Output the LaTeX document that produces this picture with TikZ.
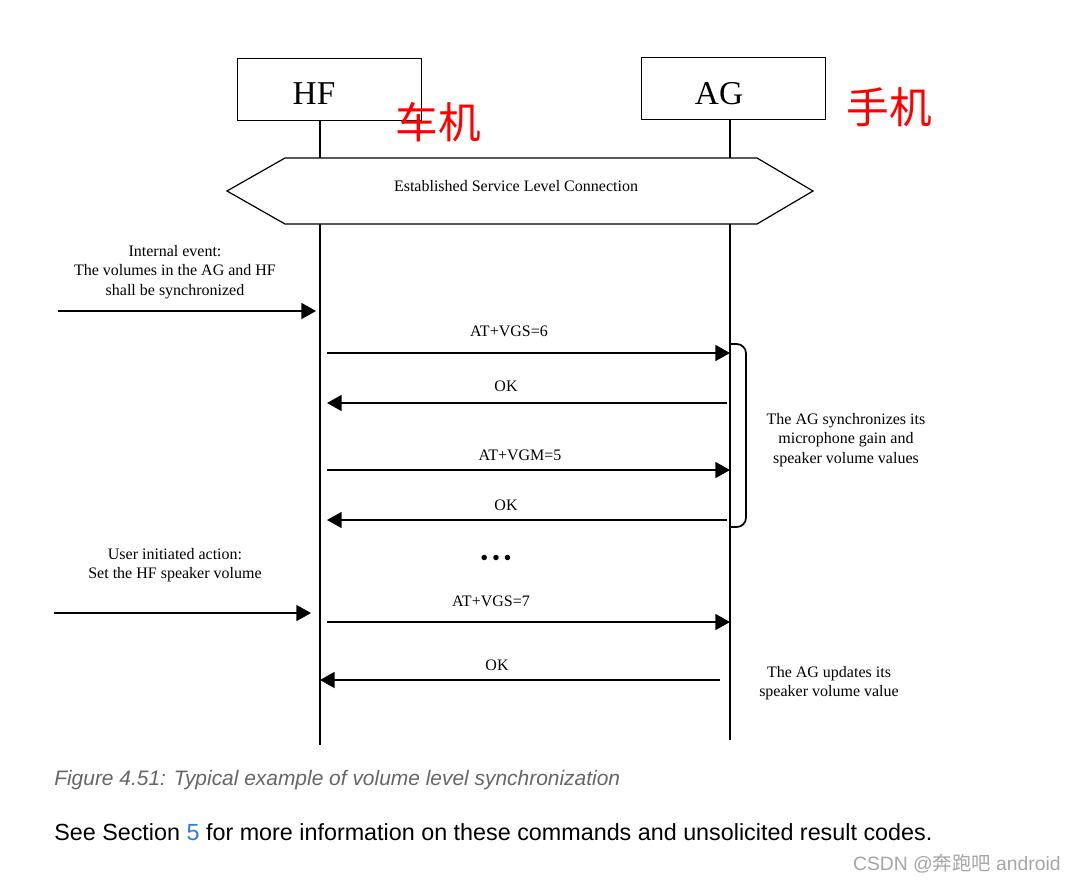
\documentclass[tikz,border=0pt]{standalone}
\usepackage{fontspec}
\setmainfont{Liberation Serif}
\newfontfamily\sansfont{Liberation Sans}
\newfontfamily\cjk{Noto Sans CJK SC}
\usetikzlibrary{positioning,arrows.meta}
\definecolor{linkblue}{HTML}{2A7DE1}

\begin{document}
\begin{tikzpicture}[
  x=.75pt, y=-.75pt, line width=1.3pt,
  >={Triangle[length=11pt,width=12pt]},
  ent/.style={draw,line width=.6pt,minimum width=138pt,minimum height=46pt,inner sep=0pt},
  msg/.style={font=\fontsize{12}{14}\selectfont},
  note/.style={align=center,font=\fontsize{12}{14.6}\selectfont},
  zh/.style={text=red,font=\cjk\fontsize{32}{36}\selectfont}
]
  \useasboundingbox[fill=white] (0,0) rectangle (1066,882);
  \node[ent] (hf) at (329.5,89.5) {};
  \node[ent] (ag) at (733,88.5) {};
  \node[font=\fontsize{25}{28}\selectfont] (hft) at (314,94) {HF};
  \node[font=\fontsize{25}{28}\selectfont] (agt) at (719,94) {AG};
  \node[zh] (car) at (438,122) {车机};
  \node[zh] (phone) at (889,107) {手机};
  \coordinate (hfend) at (320,745);
  \coordinate (agend) at (730,740);
  \draw (hfend |- hf.south) -- (hfend);
  \draw (agend |- ag.south) -- (agend);
  \draw[fill=white,line width=.9pt] (227,191) -- (285,158) -- (757,158) -- (813,191) -- (757,224) -- (285,224) -- cycle;
  \node[msg] (slc) at (516,186) {Established Service Level Connection};
  \node[note] (ev) at (175,272) {Internal event:\\The volumes in the AG and HF\\shall be synchronized};
  \coordinate (ev0) at (58,311);
  \coordinate (ev1) at (316,311);
  \draw[->] (ev0) -- (ev1);
  \coordinate (h1) at (327,353);
  \coordinate (a1) at (730,353);
  \coordinate (a2) at (727,403);
  \coordinate (h2) at (327,403);
  \coordinate (h3) at (327,470);
  \coordinate (a3) at (730,470);
  \coordinate (a4) at (727,520);
  \coordinate (h4) at (327,520);
  \coordinate (h5) at (327,622);
  \coordinate (a5) at (730,622);
  \coordinate (a6) at (720,680);
  \coordinate (h6) at (320,680);
  \draw[->] (h1) -- (a1);
  \draw[->] (a2) -- (h2);
  \draw[->] (h3) -- (a3);
  \draw[->] (a4) -- (h4);
  \draw[->] (h5) -- (a5);
  \draw[->] (a6) -- (h6);
  \node[msg] (m1) at (509,331) {AT+VGS=6};
  \node[msg] (m2) at (506,386) {OK};
  \node[msg] (m3) at (520,455) {AT+VGM=5};
  \node[msg] (m4) at (506,505) {OK};
  \node[font=\fontsize{17}{19}\selectfont] (dots) at (496,560) {•\,•\,•};
  \node[msg] (m5) at (491,601) {AT+VGS=7};
  \node[msg] (m6) at (497,665) {OK};
  \coordinate (br0) at (730,344);
  \coordinate (br1) at (730,527);
  \draw[rounded corners=7pt] (br0) -- ++(16,0) |- (br1);
  \node[note] (sync) at (846,440) {The AG synchronizes its\\microphone gain and\\speaker volume values};
  \node[note] (usr) at (175,565) {User initiated action:\\Set the HF speaker volume};
  \coordinate (us0) at (54,613);
  \coordinate (us1) at (311,613);
  \draw[->] (us0) -- (us1);
  \node[note] (upd) at (829,683) {The AG updates its\\speaker volume value};
  \node[anchor=west,text=black!60,font=\sansfont\itshape\fontsize{15.7}{18}\selectfont] (cap) at (49,780) {Figure 4.51: Typical example of volume level synchronization};
  \node[anchor=west,font=\sansfont\fontsize{17.5}{20}\selectfont] (see) at (49,832) {See Section \textcolor{linkblue}{5} for more information on these commands and unsolicited result codes.};
  \node[anchor=east,text=black!35,font=\sansfont\fontsize{14.5}{16}\selectfont] (wm) at (1066,864) {CSDN @{\cjk 奔跑吧} android};
\end{tikzpicture}
\end{document}
